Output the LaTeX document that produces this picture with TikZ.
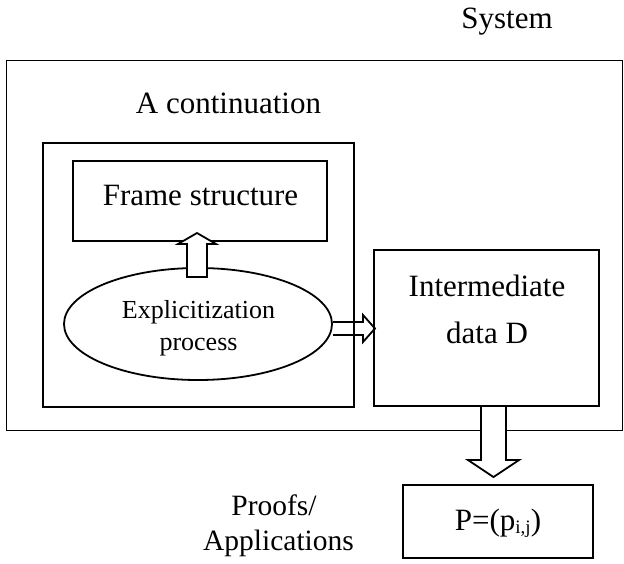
\documentclass[tikz,border=0pt]{standalone}
\usepackage{fontspec}
\setmainfont{Liberation Serif}
\usetikzlibrary{shapes.geometric}
\tikzset{
  box/.style={draw, line width=1.8pt, rectangle, inner sep=0pt},
  txt/.style={inner sep=0pt, anchor=base, font=\fontsize{31}{36}\selectfont},
  smalltxt/.style={inner sep=0pt, anchor=base, font=\fontsize{26}{30}\selectfont},
  blockarrow/.style={draw, line width=1.8pt, line join=miter, fill=white},
}
\begin{document}
\begin{tikzpicture}[x=1pt, y=-1pt]
\useasboundingbox (0,0) rectangle (624,563);
% boxes
\node[box, minimum width=616, minimum height=370] (system) at (314.5,245.5) {};
\node[box, minimum width=311, minimum height=264] (cont) at (198.5,275) {};
\node[box, minimum width=254, minimum height=80] (frame) at (200,201) {};
\node[box, ellipse, minimum width=268, minimum height=112] (expl) at (198,324) {};
\node[box, minimum width=225, minimum height=156] (inter) at (486.5,328) {};
\node[box, minimum width=190, minimum height=73] (P) at (498,521.5) {};
% labels
\node[txt] (systemlbl) at (507,28) {System};
\node[txt] (contlbl) at (228.5,113) {A continuation};
\node[txt] (framelbl) at (200.5,205) {Frame structure};
\node[smalltxt] (expl1) at (198.5,318) {Explicitization};
\node[smalltxt] (expl2) at (198.5,350) {process};
\node[txt] (inter1) at (487,296) {Intermediate};
\node[txt] (inter2) at (487,343) {data D};
\node[txt] (Plbl) at (498,530) {P=(p\raisebox{-0.28ex}{\fontsize{19}{22}\selectfont i,j})};
\node[txt, font=\fontsize{29.5}{34}\selectfont] (proofs1) at (274,515) {Proofs/};
\node[txt, font=\fontsize{29.5}{34}\selectfont] (proofs2) at (278.5,550) {Applications};
% block arrows
\draw[blockarrow] (187,277) -- (187,244) -- (178,244) -- (197,233) -- (216,244) -- (207,244) -- (207,277) -- cycle;
\draw[blockarrow, fill=none] (333,322) -- (363,322) -- (363,315) -- (375,328.5) -- (363,342) -- (363,335) -- (333,335);
\draw[blockarrow] (481,407) -- (481,460) -- (468,460) -- (493.5,477) -- (519,460) -- (506,460) -- (506,407);
\end{tikzpicture}
\end{document}
